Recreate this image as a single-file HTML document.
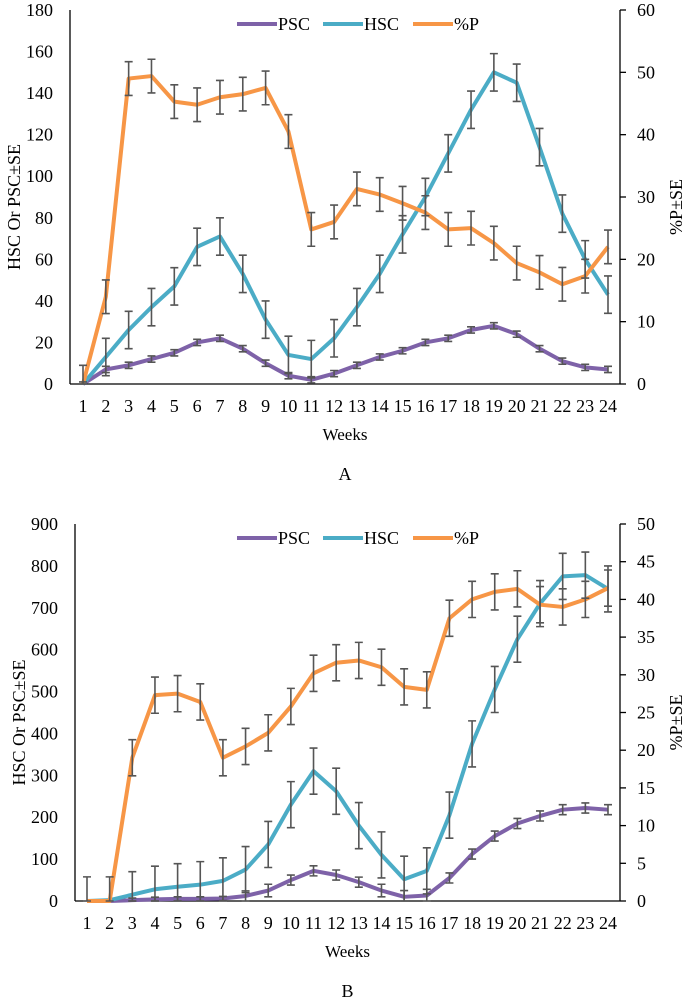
<!DOCTYPE html>
<html><head><meta charset="utf-8"><style>
body{margin:0;background:#fff}
svg{display:block}
text{font-family:"Liberation Serif","DejaVu Serif",serif}
</style></head><body>
<svg id="s" width="685" height="1007"></svg>
<script>
const weeks=[1,2,3,4,5,6,7,8,9,10,11,12,13,14,15,16,17,18,19,20,21,22,23,24];
const aPSC=[0,7,9,12,15,20,22,17,10,4,2,5,9,13,16,20,22,26,28,24,17,11,8,7];
const aPSCerr=[1,1.5,1.5,1.5,1.5,1.5,1.5,1.5,1.5,1.5,1.5,1.5,1.5,1.5,1.5,1.5,1.5,1.5,1.5,1.5,1.5,1.5,1.5,1.5];
const aHSC=[0,13,26,37,47,66,71,53,31,14,12,22,37,53,72,90,111,132,150,145,114,82,60,43];
const aHSCerr=[0,9,9,9,9,9,9,9,9,9,9,9,9,9,9,9,9,9,9,9,9,9,9,9];
const aP=[0,14,49,49.4,45.3,44.8,46,46.5,47.5,40.5,24.8,26,31.3,30.4,29,27.5,24.8,25,22.6,19.4,17.9,16,17.3,22];
const aPerr=[3,2.7,2.7,2.7,2.7,2.7,2.7,2.7,2.7,2.7,2.7,2.7,2.7,2.7,2.7,2.7,2.7,2.7,2.7,2.7,2.7,2.7,2.7,2.7];
const aLeftTicks=[0,20,40,60,80,100,120,140,160,180];
const aRightTicks=[0,10,20,30,40,50,60];
const bPSC=[0,0,2,4,5,5,6,12,25,50,72,62,45,25,10,13,55,112,155,185,203,218,222,218];
const bPSCerr=[0,0,5,5,5,5,5,12,15,12,12,12,12,15,15,15,12,12,12,12,12,12,12,12];
const bHSC=[0,2,15,28,34,39,48,75,135,230,310,262,180,110,52,72,205,375,505,625,710,775,778,745];
const bHSCerr=[0,0,55,55,55,55,55,55,55,55,55,55,55,55,55,55,55,55,55,55,55,55,55,55];
const bP=[0,0,19,27.3,27.5,26.4,19,20.5,22.3,25.8,30.2,31.6,31.9,31,28.4,28,37.5,40,41,41.4,39.3,39,40,41.5];
const bPerr=[3.2,3.2,2.4,2.4,2.4,2.4,2.4,2.4,2.4,2.4,2.4,2.4,2.4,2.4,2.4,2.4,2.4,2.4,2.4,2.4,2.4,2.4,2.4,2.4];
const bLeftTicks=[0,100,200,300,400,500,600,700,800,900];
const bRightTicks=[0,5,10,15,20,25,30,35,40,45,50];

const svg=document.getElementById('s');
const NS='http://www.w3.org/2000/svg';
const FF='"Liberation Serif", "DejaVu Serif", serif';
function el(tag,attrs,parent){const e=document.createElementNS(NS,tag);for(const k in attrs)e.setAttribute(k,attrs[k]);if(tag==='text')e.setAttribute('font-family',FF);(parent||svg).appendChild(e);return e;}
const C={psc:'#7E62A8',hsc:'#4BACC6',p:'#F79646'};

function chart(o){
  const g=el('g',{});
  
  
  const xs=i=>o.x1+(o.x24-o.x1)*i/23;
  const yl=v=>o.y0-(o.y0-o.yTop)*v/o.lMax;
  const yr=v=>o.y0-(o.y0-o.yTop)*v/o.rMax;
  const ax=el('line',{x1:o.lx,y1:o.yTop,x2:o.lx,y2:o.y0,stroke:'#000','stroke-width':1.3},g);
  
  const ax2=el('line',{x1:o.rx,y1:o.yTop,x2:o.rx,y2:o.y0,stroke:'#000','stroke-width':1.3},g);
  
  const ax3=el('line',{x1:o.lx,y1:o.y0,x2:o.rx,y2:o.y0,stroke:'#000','stroke-width':1.3},g);
  
  o.lt.forEach(v=>{const t=el('text',{x:o.lx-17,y:yl(v)+6,'text-anchor':'end','font-size':18},g);t.textContent=v;
    });
  o.rt.forEach(v=>{el('line',{x1:o.rx,x2:o.rx+6,y1:yr(v),y2:yr(v),stroke:'#000','stroke-width':1.3},g);
    const t=el('text',{x:o.rx+17,y:yr(v)+6,'font-size':18},g);t.textContent=v;
    });
  weeks.forEach((w,i)=>{const t=el('text',{x:xs(i),y:o.y0+28,'text-anchor':'middle','font-size':18},g);t.textContent=w;
    });
  let t=el('text',{x:(o.lx+o.rx)/2,y:o.y0+56,'text-anchor':'middle','font-size':17},g);t.textContent='Weeks';
  
  t=el('text',{x:(o.lx+o.rx)/2,y:o.capY,'text-anchor':'middle','font-size':18},g);t.textContent=o.cap;
  
  const cy=(o.yTop+o.y0)/2;
  t=el('text',{x:0,y:0,'text-anchor':'middle','font-size':18,transform:`translate(${o.lx-50},${cy+10}) rotate(-90)`},g);t.textContent='HSC  Or PSC±SE';
  
  t=el('text',{x:0,y:0,'text-anchor':'middle','font-size':18,transform:`translate(${o.rx+62},${cy+10}) rotate(-90)`},g);t.textContent='%P±SE';
  
  const ser=[[o.psc,o.pscE,yl,C.psc,'psc'],[o.hsc,o.hscE,yl,C.hsc,'hsc'],[o.p,o.pE,yr,C.p,'percent-p']];
  ser.forEach(([d,e,ys,col,n])=>{
    const pl=el('polyline',{points:d.map((v,i)=>xs(i)+','+ys(v)).join(' '),fill:'none',stroke:col,'stroke-width':4,'stroke-linejoin':'round'},g);
    
  });
  ser.forEach(([d,e,ys,col,n])=>{
    d.forEach((v,i)=>{if(!e[i])return;const x=xs(i),a=ys(v+e[i]),b=ys(Math.max(0,v-e[i]));
      const eb=el('path',{d:`M${x},${a}V${b}M${x-4},${a}H${x+4}M${x-4},${b}H${x+4}`,stroke:'#555','stroke-width':1.6,fill:'none'},g);
      });
  });
  const L=[['PSC',C.psc,237],['HSC',C.hsc,323],['%P',C.p,413]];
  L.forEach(([lab,col,x])=>{
    const lg=el('g',{},g);
    el('line',{x1:x,x2:x+40,y1:o.legY,y2:o.legY,stroke:col,'stroke-width':4},lg);
    const tt=el('text',{x:x+41,y:o.legY+6,'font-size':18},lg);tt.textContent=lab;
  });
}
chart({name:'chart-a',lx:70,rx:620,x1:83,x24:608,yTop:10,y0:384,lMax:180,rMax:60,lt:aLeftTicks,rt:aRightTicks,
  psc:aPSC,pscE:aPSCerr,hsc:aHSC,hscE:aHSCerr,p:aP,pE:aPerr,legY:24,cap:'A',capY:480});
chart({name:'chart-b',lx:75,rx:620,x1:87,x24:608,yTop:524,y0:901,lMax:900,rMax:50,lt:bLeftTicks,rt:bRightTicks,
  psc:bPSC,pscE:bPSCerr,hsc:bHSC,hscE:bHSCerr,p:bP,pE:bPerr,legY:538,cap:'B',capY:997});
</script>
</body></html>
